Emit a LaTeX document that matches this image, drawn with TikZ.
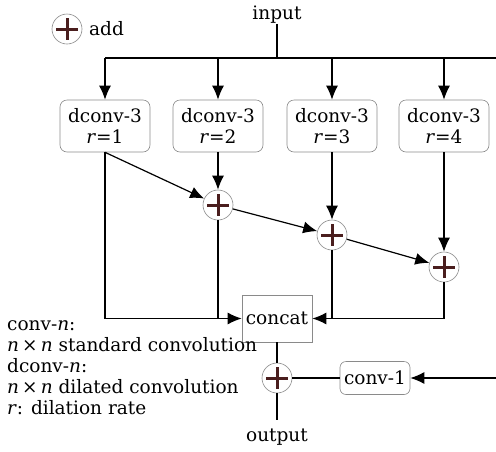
\documentclass[tikz,border=0pt]{standalone}
\usepackage{fontspec}
\setmainfont{DejaVu Serif}
\usetikzlibrary{arrows.meta}
\definecolor{plusc}{HTML}{4A1E1E}
\definecolor{boxc}{HTML}{8A8A8A}
\tikzset{
  every node/.style={font=\fontsize{18.5}{21}\selectfont, inner sep=0pt},
  dbox/.style={draw=boxc, line width=0.6pt, rounded corners=7pt, minimum width=90pt, minimum height=52pt, align=center},
  cbox/.style={draw=boxc, line width=0.6pt, minimum width=70pt, minimum height=47pt},
  c1box/.style={draw=boxc, line width=0.6pt, rounded corners=6pt, minimum width=70pt, minimum height=33pt},
  addn/.style={circle, draw=boxc, line width=0.6pt, minimum size=30pt,
    path picture={
      \draw[plusc, line width=3pt, shorten <=4pt, shorten >=4pt] (path picture bounding box.west) -- (path picture bounding box.east);
      \draw[plusc, line width=3pt, shorten <=4pt, shorten >=4pt] (path picture bounding box.north) -- (path picture bounding box.south);
    }},
  ln/.style={line width=1.2pt, black},
  arr/.style={ln, -{Latex[length=14pt, width=12pt]}},
}
\begin{document}
\begin{tikzpicture}[x=1pt, y=-1pt]
\useasboundingbox (0,0) rectangle (496,451);
% legend add
\node[addn] (la) at (67,29) {};
\node[anchor=west] (laddt) at (89,29) {add};
% input
\node (inp) at (277,15) {input};
\coordinate (top) at (277,58);
\coordinate (topl) at (105,58);
\coordinate (topr) at (496,58);
% boxes
\node[dbox] (b1) at (105,126) {dconv-3\\\textit{r}=1};
\node[dbox] (b2) at (218,126) {dconv-3\\\textit{r}=2};
\node[dbox] (b3) at (332,126) {dconv-3\\\textit{r}=3};
\node[dbox] (b4) at (444,126) {dconv-3\\\textit{r}=4};
% adders
\node[addn] (a1) at (218,205) {};
\node[addn] (a2) at (332,235) {};
\node[addn] (a3) at (444,267) {};
% concat
\node[cbox] (cc) at (277,318.5) {concat};
\node[addn] (a4) at (277,378) {};
\node[c1box] (c1) at (375,378) {conv-1};
\coordinate (rin) at (496,378);
\coordinate (oute) at (277,420);
\node (out) at (277,437) {output};
% legend text
\node[anchor=west, align=left] (leg) at (7,368) {conv-\textit{n}:\\\textit{n}\,×\,\textit{n} standard convolution\\dconv-\textit{n}:\\\textit{n}\,×\,\textit{n} dilated convolution\\\textit{r}: dilation rate};
% connectors
\draw[ln] (inp.south) -- (top);
\draw[ln] (topl) -- (topr);
\draw[arr] (topl) -- (b1.north);
\draw[arr] (b2.north |- top) -- (b2.north);
\draw[arr] (b3.north |- top) -- (b3.north);
\draw[arr] (b4.north |- top) -- (b4.north);
\draw[arr] (b1.south) -- (a1);
\draw[arr] (b2.south) -- (a1.north);
\draw[arr] (b3.south) -- (a2.north);
\draw[arr] (b4.south) -- (a3.north);
\draw[arr] (a1) -- (a2);
\draw[arr] (a2) -- (a3);
\draw[arr] (b1.south) |- (cc.west);
\draw[ln] (a1.south) -- (a1.south |- cc.west);
\draw[arr] (a3.south) |- (cc.east);
\draw[ln] (a2.south) -- (a2.south |- cc.east);
\draw[ln] (cc.south) -- (a4.north);
\draw[ln] (a4.south) -- (oute);
\draw[ln] (a4.east) -- (c1.west);
\draw[arr] (rin) -- (c1.east);
\end{tikzpicture}
\end{document}
